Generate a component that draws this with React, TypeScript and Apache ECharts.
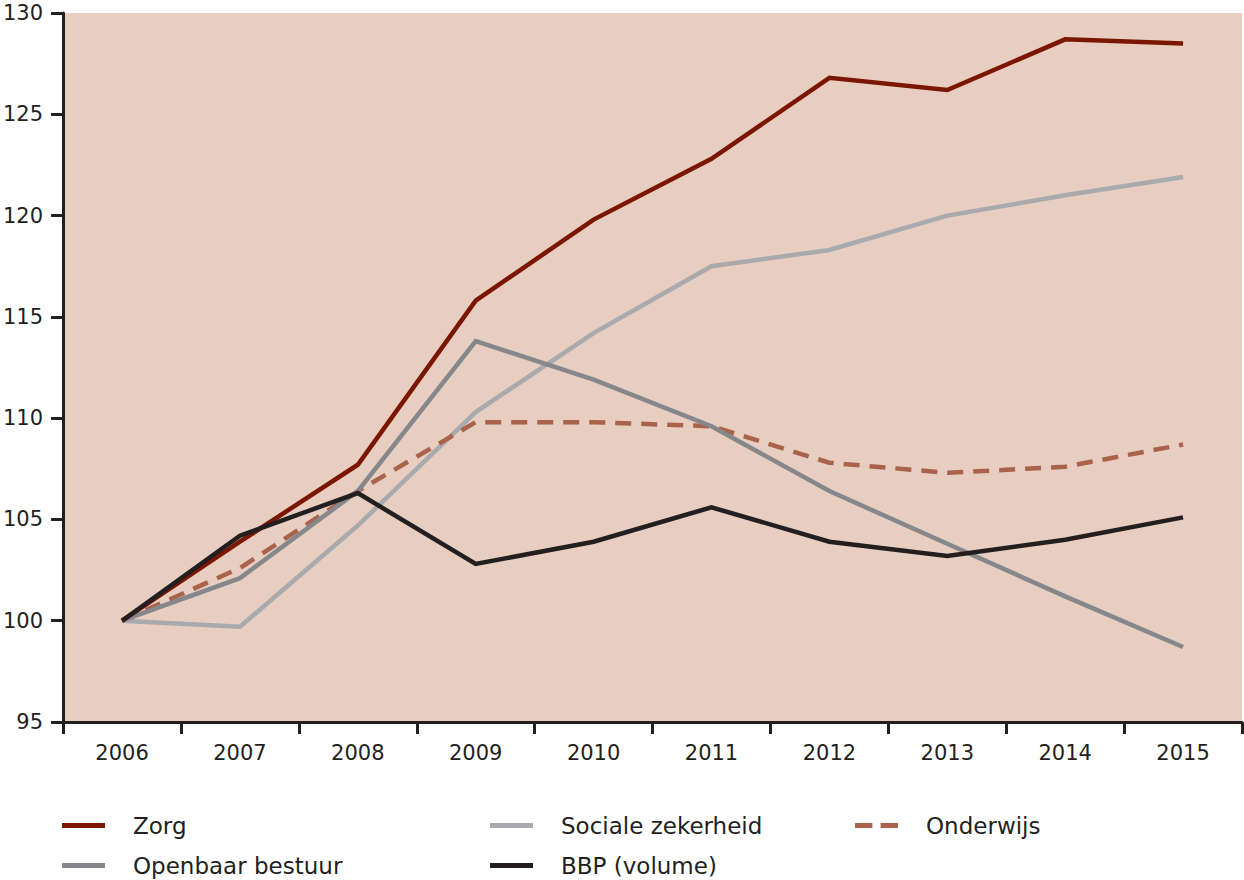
import React, { useEffect, useRef } from "react";
import * as echarts from "echarts";

const years = ["2006", "2007", "2008", "2009", "2010", "2011", "2012", "2013", "2014", "2015"];
const zorg = [100, 103.9, 107.7, 115.8, 119.8, 122.8, 126.8, 126.2, 128.7, 128.5];
const sociale = [100, 99.7, 104.7, 110.3, 114.2, 117.5, 118.3, 120.0, 121.0, 121.9];
const onderwijs = [100, 102.6, 106.4, 109.8, 109.8, 109.6, 107.8, 107.3, 107.6, 108.7];
const openbaar = [100, 102.1, 106.4, 113.8, 111.9, 109.6, 106.4, 103.8, 101.2, 98.7];
const bbp = [100, 104.2, 106.3, 102.8, 103.9, 105.6, 103.9, 103.2, 104.0, 105.1];

const FONT = "'DejaVu Sans', sans-serif";
const TXT = "#231F20";
const SOLID_ICON = "path://M0,0H43V5H0Z";
const DASH_ICON = "path://M0,0H17V5H0Z M25,0H42V5H25Z";

export default function App() {
  const ref = useRef<HTMLDivElement>(null);
  useEffect(() => {
    if (!ref.current) return;
    const chart = echarts.init(ref.current, null, { renderer: "svg" });
    const line = (name: string, data: number[], color: string, width: number, type: any = "solid") => ({
      name,
      type: "line",
      data,
      symbol: "none",
      showSymbol: false,
      lineStyle: { color, width, type, cap: "butt", join: "miter" },
      itemStyle: { color },
    });
    const legendBase = {
      orient: "vertical",
      top: 813,
      padding: 0,
      itemWidth: 43,
      itemHeight: 5,
      itemGap: 15,
      icon: SOLID_ICON,
      symbolKeepAspect: false,
      itemStyle: { borderWidth: 0 },
      textStyle: { fontFamily: FONT, fontSize: 23, lineHeight: 25, color: TXT, padding: [0, 0, 0, 23] },
      selectedMode: false,
    };
    chart.setOption({
      animation: false,
      textStyle: { fontFamily: FONT },
      grid: {
        left: 61,
        right: 2,
        top: 13,
        bottom: 158,
        show: true,
        backgroundColor: "#E8CDC1",
        borderWidth: 0,
      },
      legend: [
        { ...legendBase, left: 62, data: ["Zorg", "Openbaar bestuur"] },
        { ...legendBase, left: 490, data: ["Sociale zekerheid", "BBP (volume)"] },
        { ...legendBase, left: 855, data: [{ name: "Onderwijs", icon: DASH_ICON }] },
      ],
      xAxis: {
        type: "category",
        data: years,
        boundaryGap: true,
        axisLine: { show: true, lineStyle: { color: TXT, width: 3 } },
        axisTick: { show: true, length: 12, lineStyle: { color: TXT, width: 3 } },
        axisLabel: { fontSize: 21, color: TXT, margin: 20, fontFamily: FONT },
        splitLine: { show: false },
      },
      yAxis: {
        type: "value",
        min: 95,
        max: 130,
        interval: 5,
        axisLine: { show: true, lineStyle: { color: TXT, width: 3 } },
        axisTick: { show: true, length: 12, lineStyle: { color: TXT, width: 3 } },
        axisLabel: { fontSize: 21, color: TXT, margin: 20, fontFamily: FONT },
        splitLine: { show: false },
      },
      series: [
        line("Sociale zekerheid", sociale, "#A8AAAD", 4.5),
        line("Onderwijs", onderwijs, "#A9634A", 4.5, [16, 10]),
        line("Openbaar bestuur", openbaar, "#85878A", 4.5),
        line("Zorg", zorg, "#7B1600", 4.5),
        line("BBP (volume)", bbp, "#231F20", 4.5),
      ],
    });
    return () => chart.dispose();
  }, []);
  return (
    <div
      ref={ref}
      style={{ position: "fixed", left: 0, top: 0, width: 1244, height: 880, background: "#fff" }}
    />
  );
}
